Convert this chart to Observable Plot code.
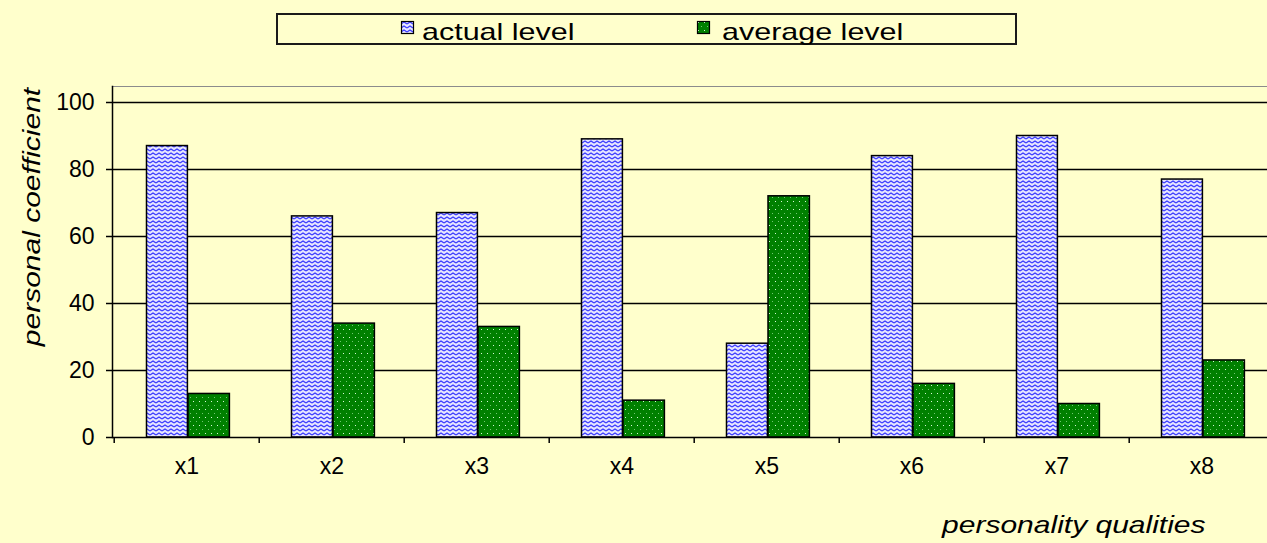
<!DOCTYPE html>
<html><head><meta charset="utf-8">
<script src="https://cdn.jsdelivr.net/npm/d3@7"></script>
<script src="https://cdn.jsdelivr.net/npm/@observablehq/plot@0.6"></script>
<style>
html,body{margin:0;padding:0;background:#FFFFCC;overflow:hidden;}
#wrap{position:relative;width:1267px;height:543px;font-family:"Liberation Sans",Arial,sans-serif;}
#legend{position:absolute;left:276px;top:13px;width:737px;height:28px;border:2px solid #1a1a1a;background:#FFFFCC;}
.sw{position:absolute;width:13px;height:13px;overflow:visible;}
.lt{position:absolute;font-size:24px;line-height:24px;transform:scaleX(1.27);transform-origin:0 0;white-space:nowrap;color:#000;}
</style></head><body><div id="wrap"></div>
<script>
const categories = ["x1","x2","x3","x4","x5","x6","x7","x8"];
const actualLevel = [87,66,67,89,28,84,90,77];
const averageLevel = [13,34,33,11,72,16,10,23];
const yTicks = [0,20,40,60,80,100];
const seriesNames = ["actual level","average level"];
const xTitle = "personality qualities";
const yTitle = "personal coefficient";

const rows = categories.map((c,i)=>({category:c, actual:actualLevel[i], average:averageLevel[i]}));
const step = 145.6;
const x0 = 112;

const chart = Plot.plot({
  width:1267, height:543, marginLeft:112, marginRight:0, marginTop:86, marginBottom:106,
  style:{background:"#FFFFCC", fontFamily:"'Liberation Sans', Arial, sans-serif", fontSize:"22px", color:"#000"},
  x:{type:"band", domain:categories, range:[x0, x0+step*8], padding:0},
  y:{domain:[0,100], range:[437,102]},
  marks:[
    Plot.frame({anchor:"top", stroke:"#8c8c8c", strokeWidth:1.2}),
    Plot.ruleY(yTicks.slice(1), {stroke:"#000", strokeWidth:1.5}),
    Plot.barY(rows, {x:"category", y:"actual", fill:"url(#zig)", stroke:"#000", strokeWidth:1.5, insetLeft:32.5, insetRight:step-74}),
    Plot.barY(rows, {x:"category", y:"average", fill:"url(#dots)", stroke:"#000", strokeWidth:1.5, insetLeft:74, insetRight:step-116}),
    Plot.ruleY([0], {stroke:"#000", strokeWidth:1.5}),
    Plot.frame({anchor:"left", stroke:"#000", strokeWidth:1.5}),
    Plot.axisY({ticks:yTicks, tickSize:6, tickPadding:12, label:null, strokeWidth:1.5, fontSize:23}),
    Plot.axisX({tickSize:6, dx:-step/2, tickFormat:()=>"", label:null, strokeWidth:1.5}),
    Plot.axisX({tickSize:0, tickPadding:20, label:null, fontSize:23}),
    Plot.text([yTitle], {text:d=>d, frameAnchor:"left", rotate:-90, textAnchor:"middle", lineAnchor:"bottom", dx:-73, dy:-45, fontSize:24, fontStyle:"italic"}),
    Plot.text([xTitle], {text:d=>d, frameAnchor:"bottom-right", textAnchor:"end", lineAnchor:"bottom", dx:-62, dy:95, fontSize:24, fontStyle:"italic"})
  ]
});

const svg = d3.select(chart);
const defs = svg.insert("defs", ":first-child");
const zig = defs.append("pattern").attr("id","zig").attr("patternUnits","userSpaceOnUse").attr("width",6).attr("height",4);
zig.append("rect").attr("width",6).attr("height",4).attr("fill","#e6e6ff");
zig.append("path").attr("d","M0,3 L3,1 L6,3").attr("fill","none").attr("stroke","#3a3aff").attr("stroke-width",1.3);
const dots = defs.append("pattern").attr("id","dots").attr("patternUnits","userSpaceOnUse").attr("width",6).attr("height",8);
dots.append("rect").attr("width",6).attr("height",8).attr("fill","#008000");
dots.append("rect").attr("x",1).attr("y",1).attr("width",1).attr("height",1).attr("fill","#d8f8d8");
dots.append("rect").attr("x",4).attr("y",5).attr("width",1).attr("height",1).attr("fill","#70c870");

svg.selectAll("text").filter(function(){ return this.textContent === xTitle || this.textContent === yTitle; }).each(function(){
  const t = this.getAttribute("transform") || "";
  this.setAttribute("transform", t + " scale(1.25,1)");
});

const wrap = document.getElementById("wrap");
wrap.appendChild(chart);

const legend = document.createElement("div");
legend.id = "legend";
wrap.appendChild(legend);
const fills = ["url(#zig)","url(#dots)"];
const swX = [401, 697];
const txX = [422, 722];
seriesNames.forEach((name,i)=>{
  const s = document.createElementNS("http://www.w3.org/2000/svg","svg");
  s.setAttribute("class","sw"); s.setAttribute("width",13); s.setAttribute("height",13);
  s.style.left = swX[i]+"px"; s.style.top = "21px";
  const r = document.createElementNS("http://www.w3.org/2000/svg","rect");
  r.setAttribute("x",0.5); r.setAttribute("y",0.5); r.setAttribute("width",12); r.setAttribute("height",12);
  r.setAttribute("fill",fills[i]); r.setAttribute("stroke","#000"); r.setAttribute("stroke-width",1.2);
  s.appendChild(r);
  wrap.appendChild(s);
  const t = document.createElement("span");
  t.className = "lt"; t.textContent = name;
  t.style.left = txX[i]+"px"; t.style.top = "20px";
  wrap.appendChild(t);
});
</script></body></html>
